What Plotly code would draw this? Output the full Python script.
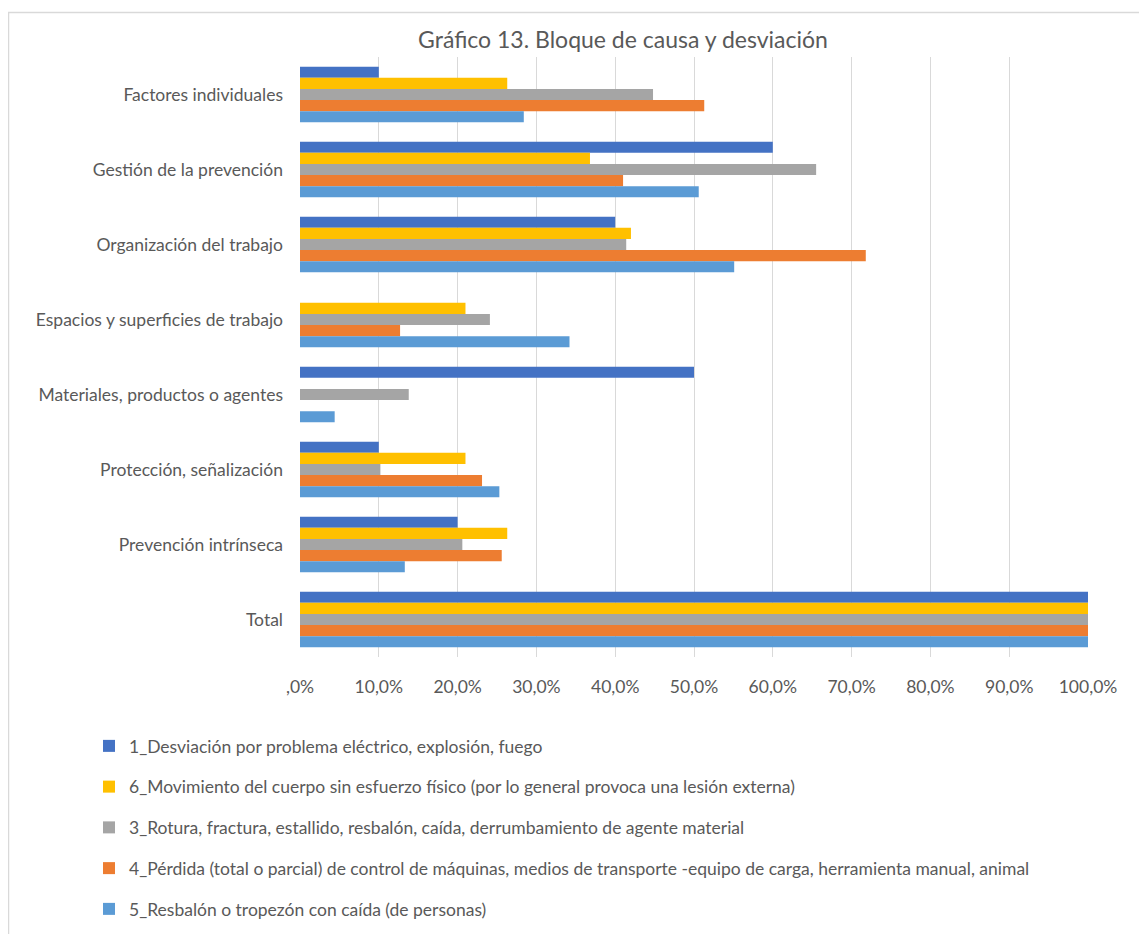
import plotly.graph_objects as go

categories = [
    "Factores individuales",
    "Gestión de la prevención",
    "Organización del trabajo",
    "Espacios y superficies de trabajo",
    "Materiales, productos o agentes",
    "Protección, señalización",
    "Prevención intrínseca",
    "Total",
]

series_names = [
    "1_Desviación por problema eléctrico, explosión, fuego",
    "6_Movimiento del cuerpo sin esfuerzo físico (por lo general provoca una lesión externa)",
    "3_Rotura, fractura, estallido, resbalón, caída, derrumbamiento de agente material",
    "4_Pérdida (total o parcial) de control de máquinas, medios de transporte -equipo de carga, herramienta manual, animal",
    "5_Resbalón o tropezón con caída (de personas)",
]

s1_electrico = [10.0, 60.0, 40.0, 0.0, 50.0, 10.0, 20.0, 100.0]
s6_movimiento = [26.3, 36.8, 42.0, 21.0, 0.0, 21.0, 26.3, 100.0]
s3_rotura = [44.8, 65.5, 41.4, 24.1, 13.8, 10.2, 20.6, 100.0]
s4_perdida = [51.3, 41.0, 71.8, 12.7, 0.0, 23.1, 25.6, 100.0]
s5_resbalon = [28.4, 50.6, 55.1, 34.2, 4.4, 25.3, 13.3, 100.0]

series_values = [s1_electrico, s6_movimiento, s3_rotura, s4_perdida, s5_resbalon]
colors = ["#4472C4", "#FFC000", "#A5A5A5", "#ED7D31", "#5B9BD5"]

tick_vals = [0, 10, 20, 30, 40, 50, 60, 70, 80, 90, 100]
tick_text = [",0%", "10,0%", "20,0%", "30,0%", "40,0%", "50,0%", "60,0%",
             "70,0%", "80,0%", "90,0%", "100,0%"]

FONT = "Lato"
TXT = "#595959"
FS = 17.5

fig = go.Figure()
for i, (name, vals, col) in enumerate(zip(series_names, series_values, colors)):
    fig.add_trace(go.Bar(
        y=categories, x=vals, name=name, orientation="h",
        marker=dict(color=col, line=dict(width=0)),
        legendgroup=f"g{i}",
    ))

OFF = 8  # page body margin
W, H = 1147 - OFF, 934 - OFF
L, R, T, B = 300 - OFF, 1088 - OFF, 57 - OFF, 657 - OFF
pw, ph = R - L, B - T

def px2x(px):
    return (px - OFF - L) / pw

def py2y(py):
    return (B - (py - OFF)) / ph

fig.update_layout(
    width=W, height=H,
    margin=dict(l=L, r=W - R, t=T, b=H - B, autoexpand=False),
    paper_bgcolor="white", plot_bgcolor="white",
    barmode="group", bargap=0.26, bargroupgap=0,
    font=dict(family=FONT, size=FS, color=TXT),
    title=dict(text="Gráfico 13. Bloque de causa y desviación",
               x=(623 - OFF) / W, xref="container", xanchor="center",
               y=1 - (40 - OFF) / H, yref="container", yanchor="middle",
               font=dict(family=FONT, size=23, color=TXT)),
    xaxis=dict(range=[0, 100], tickvals=tick_vals, ticktext=tick_text,
               showgrid=True, gridcolor="#D9D9D9", gridwidth=1,
               zeroline=False, showline=False, ticks="",
               ticklabelstandoff=17,
               tickfont=dict(family=FONT, size=FS, color=TXT)),
    yaxis=dict(autorange="reversed", showgrid=False, zeroline=False,
               showline=False, ticks="", ticklabelstandoff=16,
               tickfont=dict(family=FONT, size=FS, color=TXT)),
    legend=dict(x=px2x(89), xanchor="left", y=py2y(728), yanchor="top",
                orientation="v", traceorder="grouped", tracegroupgap=15,
                itemwidth=30, font=dict(family=FONT, size=FS, color=TXT),
                bgcolor="rgba(0,0,0,0)"),
    showlegend=True,
)

fig.add_shape(type="rect", xref="paper", yref="paper",
              x0=px2x(8.5), x1=px2x(1200), y0=py2y(1000), y1=py2y(12.5),
              line=dict(color="#D9D9D9", width=1.5), fillcolor="rgba(0,0,0,0)",
              layer="below")

fig.write_html("out.html")
